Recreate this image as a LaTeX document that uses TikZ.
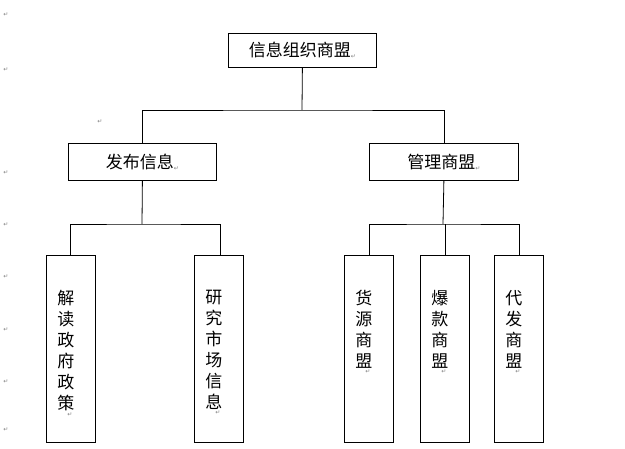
\documentclass[tikz,border=0pt]{standalone}
\usepackage{fontspec}
\setmainfont{Noto Sans CJK SC}
\newfontfamily\symf{DejaVu Sans}
\begin{document}
\begin{tikzpicture}[x=1pt,y=-1pt,
  box/.style={draw,line width=0.8pt,inner sep=0},
  t/.style={font=\fontsize{17}{19}\selectfont},
  ln/.style={line width=0.8pt},
  pm/.style={font=\symf\fontsize{6}{6}\selectfont,text=gray}]
\useasboundingbox (0,0) rectangle (625,449);
\node[box,minimum width=148,minimum height=34,anchor=north west] (top) at (228,33) {};
\node[t] at (top.center) {信息组织商盟\raisebox{-2pt}{\symf\fontsize{6}{6}\selectfont\color{gray}↵}};
\node[box,minimum width=148,minimum height=37,anchor=north west] (fb) at (68,143) {};
\node[t] at (fb.center) {发布信息\raisebox{-2pt}{\symf\fontsize{6}{6}\selectfont\color{gray}↵}};
\node[box,minimum width=149,minimum height=37,anchor=north west] (gl) at (369,143) {};
\node[t] at (gl.center) {管理商盟\raisebox{-2pt}{\symf\fontsize{6}{6}\selectfont\color{gray}↵}};
\foreach \n/\x/\txt in {a/46/{解\\读\\政\\府\\政\\策}, b/194/{研\\究\\市\\场\\信\\息}, c/344/{货\\源\\商\\盟}, d/420/{爆\\款\\商\\盟}, e/494/{代\\发\\商\\盟}}{
  \node[box,minimum width=49,minimum height=187,anchor=north west] (\n) at (\x,255) {};
  \node[t,anchor=north,align=center,inner sep=0,font=\fontsize{17}{21}\selectfont] (\n t) at ([xshift=-5,yshift=-35]\n.north) {\txt};
  \node[pm,anchor=north,inner sep=0] at ([xshift=4,yshift=-1]\n t.south) {↵};
}
\coordinate (j1) at (302,110);
\draw[ln] (top.south) -- (j1);
\draw[ln] (fb.north) |- (j1) -| (gl.north);
\coordinate (j2) at (142,224);
\coordinate (j3) at (443,224);
\draw[ln] (fb.south) -- (j2);
\draw[ln] ([xshift=-1]a.north) |- (j2) -| ([xshift=1]b.north);
\draw[ln] (gl.south) -- (j3);
\draw[ln] (c.north) |- (j3) -| (e.north);
\draw[ln] (d.north) -- (d.north |- j3);
\foreach \y in {15,70,173,225,277,330,382,430}{\node[pm] at (6,\y) {↵};}
\node[pm] at (100,122) {↵};
\end{tikzpicture}
\end{document}
